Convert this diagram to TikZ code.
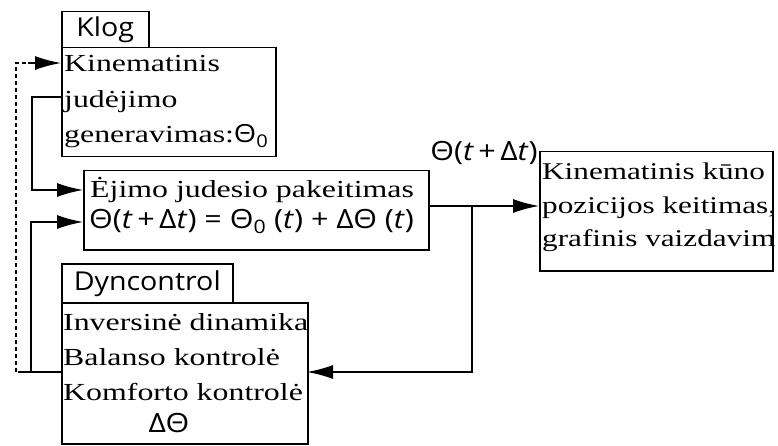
\documentclass[tikz,border=0pt]{standalone}
\usepackage{fontspec}
\setmainfont[FakeStretch=1.3]{Liberation Serif}
\newfontfamily\sansf[FakeStretch=1.1]{Open Sans}
\newfontfamily\eqf[FakeStretch=1.15]{Open Sans}
\usetikzlibrary{arrows.meta}
\tikzset{
  box/.style={draw, line width=1.5pt, inner sep=0pt, anchor=north west},
  tabbox/.style={box, font=\sansf\fontsize{26}{28}\selectfont},
  txt/.style={anchor=base west, inner sep=0pt, font=\fontsize{24.5}{30}\selectfont},
  eqtxt/.style={inner sep=0pt, font=\eqf\fontsize{26.5}{30}\selectfont},
  conn/.style={line width=1.5pt},
  arr/.style={conn, -{Latex[length=26pt,width=14pt]}},
  dashline/.style={line width=1.4pt, dash pattern=on 4pt off 3pt}
}
\begin{document}
\begin{tikzpicture}[x=1pt,y=-1pt]
\useasboundingbox (0,0) rectangle (778,446);
% boxes
\node[tabbox, minimum width=87pt, minimum height=36pt] (klogtab) at (61,11) {Klog};
\node[box, minimum width=214pt, minimum height=109pt] (klog) at (61,47) {};
\node[box, minimum width=345pt, minimum height=79pt] (mid) at (83,170) {};
\node[box, minimum width=233pt, minimum height=119pt] (right) at (539,151) {};
\node[tabbox, minimum width=171pt, minimum height=39pt] (dyntab) at (61,263) {Dyncontrol};
\node[box, minimum width=246pt, minimum height=141pt] (dyn) at (61,302) {};
% texts
\node[txt] (k1) at (64,72) {Kinematinis};
\node[txt] (k2) at (64,108) {judėjimo};
\node[txt] (k3) at (64,143) {generavimas:{\eqf\fontsize{25}{30}\selectfont Θ\textsubscript{0}}};
\node[txt] (m1) at (90,198) {Ėjimo judesio pakeitimas};
\node[eqtxt, anchor=base west] (m2) at (89,229) {Θ(\textit{t}\,+\,Δ\textit{t}) = Θ\textsubscript{0} (\textit{t}) + ΔΘ (\textit{t})};
\node[txt, font=\fontsize{24}{30}\selectfont] (r1) at (542,180) {Kinematinis kūno};
\node[txt, font=\fontsize{24}{30}\selectfont] (r2) at (542,214) {pozicijos keitimas,};
\node[txt, font=\fontsize{24}{30}\selectfont] (r3) at (542,247) {grafinis vaizdavim};
\node[txt] (d1) at (63,330) {Inversinė dinamika};
\node[txt] (d2) at (63,365) {Balanso kontrolė};
\node[txt] (d3) at (63,400) {Komforto kontrolė};
\node[eqtxt, anchor=base] (d4) at (169,432) {ΔΘ};
\node[eqtxt, anchor=base] (lab) at (484,161) {Θ(\textit{t}\,+\,Δ\textit{t})};
% connectors
\coordinate (o1) at (428,206);
\coordinate (br) at (472,206);
\coordinate (r1in) at (539,206);
\draw[arr] (o1) -- (r1in);
\coordinate (dynE) at (307,372);
\draw[arr] (br) -- (472,372) -- (dynE);
\coordinate (dynW) at (61,372);
\coordinate (midA) at (83,190);
\coordinate (midB) at (83,222);
\coordinate (klogW) at (61,97);
\coordinate (klogA) at (61,63);
\draw[arr] (klogW) -- (32,97) -- (32,190) -- (midA);
\draw[arr] (dynW) -- (31,372) -- (31,222) -- (midB);
\draw[conn] (31,372) -- (18,372);
\draw[dashline] (16,372) -- (16,63) -- (30,63);
\draw[arr] (28,63) -- (klogA);
\end{tikzpicture}
\end{document}
